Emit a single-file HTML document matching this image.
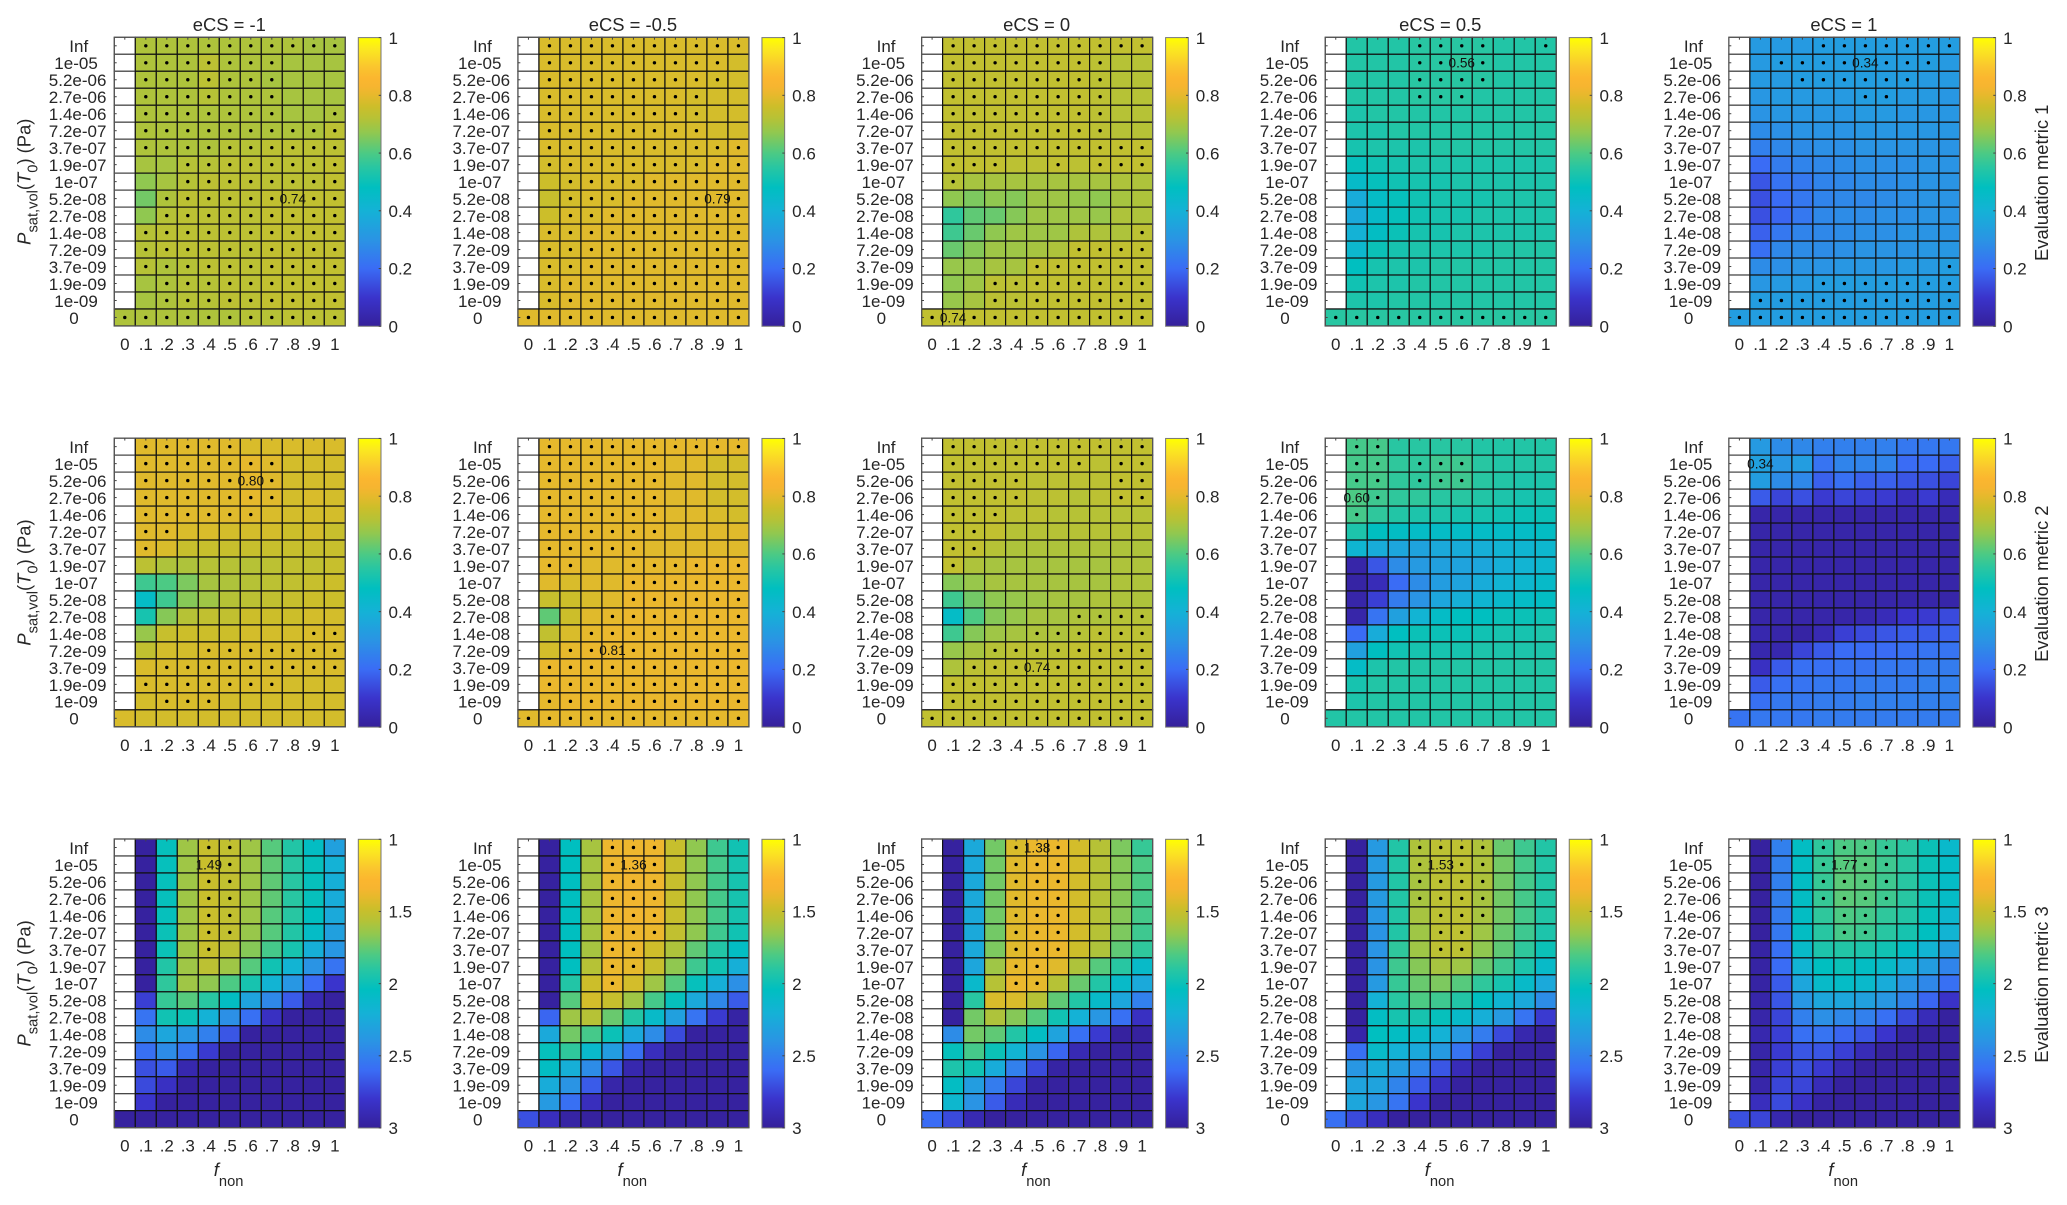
<!DOCTYPE html>
<html lang="en">
<head>
<meta charset="utf-8">
<title>Evaluation metric heatmaps</title>
<style>
html,body{margin:0;padding:0;background:#fff;}
#fig{display:block;font-family:"Liberation Sans",sans-serif;fill:#262626;filter:blur(0.35px);}
</style>
</head>
<body>
<svg id="fig" xmlns="http://www.w3.org/2000/svg" width="2067" height="1205" viewBox="0 0 2067 1205">
<defs><linearGradient id="cbar" x1="0" y1="1" x2="0" y2="0"></linearGradient></defs>
<rect x="0" y="0" width="2067" height="1205" fill="#fff"/>
</svg>
<script>
const _ = null;
const xLabels = ["0",".1",".2",".3",".4",".5",".6",".7",".8",".9","1"];
const yLabels = ["Inf","1e-05","5.2e-06","2.7e-06","1.4e-06","7.2e-07","3.7e-07","1.9e-07","1e-07","5.2e-08","2.7e-08","1.4e-08","7.2e-09","3.7e-09","1.9e-09","1e-09","0"];
const ecsTitles = ["eCS = -1","eCS = -0.5","eCS = 0","eCS = 0.5","eCS = 1"];
const metricNames = ["Evaluation metric 1","Evaluation metric 2","Evaluation metric 3"];
const cbarTicksUnit = [0,0.2,0.4,0.6,0.8,1];
const cbarTicksMetric3 = [1,1.5,2,2.5,3];
const colorStops = [[0,"#35209a"],[0.1,"#3a34cc"],[0.2,"#3a6cf5"],[0.3,"#2a94e4"],[0.4,"#14b2d6"],[0.48,"#00bfc0"],[0.55,"#28c6a2"],[0.6,"#4cca84"],[0.67,"#90c850"],[0.72,"#b6c236"],[0.76,"#ccbe2a"],[0.8,"#e6b92c"],[0.83,"#f6b530"],[0.86,"#fbb62f"],[0.9,"#fac62e"],[0.96,"#fbe820"],[1,"#ffff00"]];

/* metric 1 */
const m1a = [
[_,.71,.71,.71,.71,.71,.71,.71,.71,.70,.70],
[_,.71,.71,.71,.73,.71,.71,.71,.70,.70,.70],
[_,.71,.71,.71,.73,.71,.71,.70,.70,.70,.70],
[_,.71,.71,.71,.72,.71,.71,.71,.70,.70,.70],
[_,.71,.71,.71,.71,.71,.71,.71,.70,.70,.71],
[_,.71,.71,.71,.71,.71,.71,.71,.71,.71,.73],
[_,.71,.71,.71,.71,.72,.72,.73,.73,.73,.73],
[_,.70,.70,.72,.72,.73,.73,.73,.73,.73,.74],
[_,.67,.70,.72,.73,.73,.73,.73,.73,.73,.74],
[_,.64,.71,.73,.73,.73,.73,.74,.74,.74,.74],
[_,.67,.72,.73,.73,.73,.73,.74,.74,.74,.74],
[_,.72,.73,.73,.73,.73,.73,.74,.74,.74,.74],
[_,.72,.73,.73,.73,.73,.73,.74,.74,.74,.74],
[_,.72,.71,.72,.73,.73,.73,.74,.74,.74,.74],
[_,.70,.71,.72,.72,.73,.73,.74,.74,.74,.74],
[_,.70,.71,.72,.72,.73,.73,.74,.74,.74,.74],
[.71,.71,.71,.71,.71,.71,.72,.72,.73,.73,.73]];
const d1a = [[1,2,3,4,5,6,7,8,9,10],[1,2,3,4,5,6,7],[1,2,3,4,5,6,7],[1,2,3,4,5,6,7],[1,2,3,4,5,6,7,10],[1,2,3,4,5,6,7,8,9,10],[1,2,3,4,5,6,7,8,9,10],[3,4,5,6,7,8,9,10],[3,4,5,6,7,8,9,10],[2,3,4,5,6,7,9,10],[2,3,4,5,6,7,8,9,10],[1,2,3,4,5,6,7,8,9,10],[1,2,3,4,5,6,7,8,9,10],[1,2,3,4,5,6,7,8,9,10],[2,3,4,5,6,7,8,9,10],[2,3,4,5,6,7,8,9,10],[0,1,2,3,4,5,6,7,8,9,10]];
const n1a = [9,8,"0.74"];

const m1b = [
[_,.78,.78,.78,.78,.78,.78,.78,.78,.78,.78],
[_,.78,.78,.78,.78,.78,.78,.78,.78,.78,.77],
[_,.78,.78,.78,.78,.78,.78,.78,.78,.77,.77],
[_,.78,.78,.78,.78,.78,.78,.78,.77,.77,.77],
[_,.78,.78,.78,.78,.78,.78,.78,.77,.77,.77],
[_,.78,.78,.78,.78,.78,.78,.78,.78,.77,.77],
[_,.78,.78,.78,.78,.78,.78,.78,.78,.78,.79],
[_,.77,.78,.78,.78,.78,.78,.78,.78,.79,.79],
[_,.76,.77,.78,.78,.78,.79,.79,.79,.79,.79],
[_,.75,.77,.78,.78,.79,.79,.79,.79,.79,.79],
[_,.76,.78,.78,.79,.79,.79,.79,.79,.79,.79],
[_,.78,.78,.79,.79,.79,.79,.79,.79,.79,.79],
[_,.78,.78,.79,.79,.79,.79,.79,.79,.79,.79],
[_,.78,.78,.79,.79,.79,.79,.79,.79,.79,.79],
[_,.78,.79,.79,.79,.79,.79,.79,.79,.79,.79],
[_,.78,.79,.79,.79,.79,.79,.79,.79,.79,.79],
[.79,.79,.79,.79,.79,.79,.79,.79,.79,.79,.79]];
const d1b = [[1,2,3,4,5,6,7,8,9,10],[1,2,3,4,5,6,7,8,9],[1,2,3,4,5,6,7,8,9],[1,2,3,4,5,6,7,8],[1,2,3,4,5,6,7,8],[1,2,3,4,5,6,7,8],[1,2,3,4,5,6,7,8,9,10],[1,2,3,4,5,6,7,8,9,10],[2,3,4,5,6,7,8,9,10],[2,3,4,5,6,7,8,10],[2,3,4,5,6,7,8,9,10],[1,2,3,4,5,6,7,8,9,10],[1,2,3,4,5,6,7,8,9,10],[1,2,3,4,5,6,7,8,9,10],[1,2,3,4,5,6,7,8,9,10],[1,2,3,4,5,6,7,8,9,10],[0,1,2,3,4,5,6,7,8,9,10]];
const n1b = [9,9,"0.79"];

const m1c = [
[_,.74,.74,.74,.74,.74,.74,.74,.74,.74,.74],
[_,.74,.74,.74,.74,.74,.74,.74,.73,.72,.72],
[_,.74,.74,.74,.74,.74,.74,.74,.73,.72,.72],
[_,.74,.74,.74,.74,.74,.74,.74,.73,.72,.72],
[_,.74,.74,.74,.74,.74,.74,.74,.73,.72,.72],
[_,.74,.74,.74,.74,.74,.74,.74,.73,.72,.72],
[_,.74,.74,.74,.74,.74,.74,.74,.74,.74,.74],
[_,.74,.74,.74,.73,.73,.74,.73,.74,.74,.74],
[_,.72,.70,.70,.70,.70,.70,.70,.70,.71,.71],
[_,.67,.65,.67,.66,.69,.69,.68,.67,.70,.71],
[_,.56,.62,.63,.66,.69,.69,.69,.68,.71,.71],
[_,.58,.63,.67,.69,.69,.69,.71,.71,.71,.73],
[_,.63,.66,.69,.69,.70,.71,.74,.74,.74,.74],
[_,.68,.68,.70,.70,.74,.74,.74,.74,.74,.74],
[_,.67,.69,.73,.73,.74,.74,.74,.74,.74,.74],
[_,.68,.70,.73,.73,.74,.74,.74,.74,.74,.74],
[.74,.74,.74,.74,.74,.74,.74,.74,.74,.74,.74]];
const d1c = [[1,2,3,4,5,6,7,8,9,10],[1,2,3,4,5,6,7,8],[1,2,3,4,5,6,7,8],[1,2,3,4,5,6,7,8],[1,2,3,4,5,6,7,8],[1,2,3,4,5,6,7,8],[1,2,3,4,5,6,7,8,9,10],[1,2,3,6,8,9,10],[1],[],[],[10],[7,8,9,10],[5,6,7,8,9,10],[3,4,5,6,7,8,9,10],[3,4,5,6,7,8,9,10],[0,2,3,4,5,6,7,8,9,10]];
const n1c = [16,1,"0.74"];

const m1d = [
[_,.54,.54,.54,.55,.55,.55,.55,.54,.54,.54],
[_,.54,.54,.54,.55,.55,.56,.55,.54,.54,.54],
[_,.54,.54,.54,.55,.55,.55,.55,.54,.54,.54],
[_,.54,.54,.54,.55,.55,.55,.54,.54,.54,.54],
[_,.53,.54,.54,.54,.54,.54,.54,.54,.54,.54],
[_,.53,.53,.54,.54,.54,.54,.54,.54,.54,.54],
[_,.52,.53,.53,.53,.54,.54,.54,.54,.54,.54],
[_,.49,.51,.52,.53,.53,.53,.53,.53,.53,.53],
[_,.45,.49,.51,.52,.52,.53,.53,.53,.53,.53],
[_,.38,.46,.49,.51,.52,.52,.52,.53,.53,.53],
[_,.37,.45,.49,.51,.52,.52,.53,.53,.53,.53],
[_,.40,.47,.50,.52,.52,.53,.53,.53,.53,.53],
[_,.43,.50,.52,.53,.53,.53,.53,.54,.54,.54],
[_,.48,.52,.53,.53,.54,.54,.54,.54,.54,.54],
[_,.51,.53,.53,.54,.54,.54,.54,.54,.54,.54],
[_,.53,.53,.54,.54,.54,.54,.54,.54,.54,.54],
[.55,.55,.55,.55,.55,.55,.55,.55,.55,.55,.55]];
const d1d = [[4,5,6,7,10],[4,5,7],[4,5,6,7],[4,5,6],[],[],[],[],[],[],[],[],[],[],[],[],[0,1,2,3,4,5,6,7,8,9,10]];
const n1d = [1,6,"0.56"];

const m1e = [
[_,.32,.32,.32,.33,.33,.33,.33,.33,.33,.33],
[_,.32,.33,.33,.33,.33,.34,.33,.33,.33,.32],
[_,.32,.32,.33,.33,.33,.33,.33,.33,.32,.32],
[_,.31,.32,.32,.32,.32,.33,.33,.32,.32,.31],
[_,.30,.31,.31,.31,.31,.32,.32,.31,.31,.31],
[_,.28,.29,.30,.30,.30,.31,.31,.31,.31,.31],
[_,.25,.27,.28,.29,.29,.30,.30,.30,.30,.30],
[_,.20,.24,.26,.27,.28,.29,.29,.29,.30,.30],
[_,.16,.22,.23,.26,.27,.28,.28,.29,.30,.30],
[_,.15,.20,.23,.26,.27,.27,.28,.29,.30,.30],
[_,.15,.19,.23,.27,.28,.28,.29,.29,.30,.30],
[_,.18,.23,.26,.27,.28,.29,.29,.30,.30,.30],
[_,.21,.27,.28,.28,.29,.30,.30,.30,.31,.31],
[_,.28,.29,.30,.30,.31,.31,.31,.32,.32,.33],
[_,.31,.32,.32,.33,.33,.33,.33,.33,.33,.33],
[_,.33,.33,.33,.33,.33,.33,.33,.33,.33,.33],
[.33,.33,.33,.33,.33,.33,.33,.33,.33,.33,.33]];
const d1e = [[4,5,6,7,8,9,10],[2,3,4,5,7,8,9],[3,4,5,6,7,8],[6,7],[],[],[],[],[],[],[],[],[],[10],[4,5,6,7,8,9,10],[1,2,3,4,5,6,7,8,9,10],[0,1,2,3,4,5,6,7,8,9,10]];
const n1e = [1,6,"0.34"];

/* metric 2 */
const m2a = [
[_,.79,.79,.79,.79,.79,.78,.78,.78,.78,.78],
[_,.79,.79,.79,.79,.79,.80,.79,.77,.77,.77],
[_,.79,.79,.79,.79,.79,.80,.79,.77,.77,.77],
[_,.79,.79,.79,.79,.79,.80,.79,.77,.78,.77],
[_,.79,.79,.79,.79,.79,.79,.78,.77,.77,.77],
[_,.79,.79,.78,.78,.77,.77,.77,.76,.77,.75],
[_,.79,.78,.75,.75,.75,.75,.75,.75,.75,.75],
[_,.73,.71,.71,.72,.72,.72,.73,.74,.74,.75],
[_,.58,.60,.65,.70,.71,.72,.73,.74,.75,.76],
[_,.46,.58,.66,.69,.72,.73,.74,.75,.76,.76],
[_,.52,.66,.72,.74,.74,.76,.76,.76,.77,.77],
[_,.68,.75,.76,.76,.76,.77,.77,.77,.78,.78],
[_,.74,.77,.77,.78,.78,.78,.78,.78,.78,.78],
[_,.78,.78,.78,.78,.78,.78,.78,.78,.78,.78],
[_,.78,.78,.78,.78,.78,.78,.78,.77,.77,.77],
[_,.77,.78,.78,.78,.77,.77,.77,.77,.77,.77],
[.78,.77,.77,.77,.77,.77,.77,.77,.77,.77,.77]];
const d2a = [[1,2,3,4,5],[1,2,3,4,5,6,7],[1,2,3,4,5,7],[1,2,3,4,5,6,7],[1,2,3,4,5,6],[1,2],[1],[],[],[],[],[9,10],[4,5,6,7,8,9,10],[2,3,4,5,6,7,8,9,10],[1,2,3,4,5,6,7],[2,3,4],[]];
const n2a = [2,6,"0.80"];

const m2b = [
[_,.80,.80,.80,.80,.80,.80,.80,.80,.80,.80],
[_,.80,.80,.80,.80,.80,.80,.79,.79,.77,.77],
[_,.80,.80,.80,.80,.80,.80,.79,.79,.77,.77],
[_,.80,.80,.80,.80,.80,.80,.79,.79,.77,.77],
[_,.80,.80,.80,.80,.80,.80,.79,.79,.78,.77],
[_,.80,.80,.80,.80,.80,.80,.79,.79,.79,.79],
[_,.80,.80,.80,.80,.80,.79,.79,.79,.79,.79],
[_,.80,.80,.79,.79,.80,.80,.80,.81,.81,.81],
[_,.79,.78,.79,.79,.81,.81,.81,.81,.81,.81],
[_,.75,.76,.78,.79,.81,.81,.81,.81,.81,.81],
[_,.62,.76,.79,.80,.81,.81,.81,.81,.81,.81],
[_,.74,.78,.80,.81,.81,.81,.81,.81,.81,.81],
[_,.77,.80,.81,.81,.81,.81,.81,.81,.81,.81],
[_,.81,.81,.81,.81,.81,.81,.81,.81,.81,.81],
[_,.81,.81,.81,.81,.81,.81,.81,.81,.81,.81],
[_,.80,.81,.81,.81,.81,.81,.81,.81,.81,.81],
[.79,.80,.80,.80,.80,.80,.80,.80,.80,.80,.80]];
const d2b = [[1,2,3,4,5,6,7,8,9,10],[1,2,3,4,5,6],[1,2,3,4,5,6],[1,2,3,4,5,6],[1,2,3,4,5,6],[1,2,3,4,5,6],[1,2,3,4,5],[1,2,5,6,7,8,9,10],[5,6,7,8,9,10],[5,6,7,8,9,10],[4,5,6,7,8,9,10],[3,4,5,6,7,8,9,10],[2,3,5,6,7,8,9,10],[1,2,3,4,5,6,7,8,9,10],[1,2,3,4,5,6,7,8,9,10],[1,2,3,4,5,6,7,8,9,10],[0,1,2,3,4,5,6,7,8,9,10]];
const n2b = [12,4,"0.81"];

const m2c = [
[_,.74,.74,.74,.74,.74,.74,.74,.74,.74,.74],
[_,.74,.74,.74,.74,.74,.74,.74,.73,.74,.74],
[_,.74,.74,.74,.74,.73,.73,.73,.73,.74,.74],
[_,.74,.74,.74,.74,.73,.73,.72,.73,.74,.74],
[_,.74,.74,.74,.73,.73,.72,.72,.72,.72,.72],
[_,.74,.74,.74,.72,.72,.72,.72,.72,.72,.72],
[_,.74,.74,.72,.71,.71,.71,.71,.71,.71,.71],
[_,.74,.71,.70,.70,.70,.70,.70,.70,.71,.71],
[_,.66,.68,.70,.70,.70,.70,.70,.70,.71,.71],
[_,.58,.64,.67,.68,.69,.70,.70,.71,.71,.71],
[_,.46,.60,.66,.68,.70,.70,.71,.71,.72,.72],
[_,.58,.66,.69,.70,.71,.71,.72,.73,.73,.73],
[_,.68,.70,.72,.73,.73,.73,.74,.74,.74,.74],
[_,.71,.73,.74,.74,.74,.74,.74,.74,.74,.74],
[_,.74,.74,.74,.74,.74,.74,.74,.74,.74,.74],
[_,.74,.74,.74,.74,.74,.74,.74,.74,.74,.74],
[.74,.74,.74,.74,.74,.74,.74,.74,.74,.74,.74]];
const d2c = [[1,2,3,4,5,6,7,8,9,10],[1,2,3,4,5,6,7,9,10],[1,2,3,4,9,10],[1,2,3,4,9,10],[1,2,3],[1,2],[1,2],[1],[],[],[7,8,9,10],[5,6,7,8,9,10],[3,4,5,6,7,8,9,10],[2,3,4,6,7,8,9,10],[1,2,3,4,5,6,7,8,9,10],[1,2,3,4,5,6,7,8,9,10],[0,1,2,3,4,5,6,7,8,9,10]];
const n2c = [13,5,"0.74"];

const m2d = [
[_,.59,.59,.55,.55,.55,.55,.54,.54,.54,.54],
[_,.59,.59,.56,.56,.58,.58,.55,.54,.54,.54],
[_,.59,.59,.56,.56,.58,.58,.55,.54,.53,.53],
[_,.60,.58,.56,.56,.55,.55,.54,.53,.52,.52],
[_,.59,.56,.54,.53,.53,.52,.52,.51,.50,.50],
[_,.53,.48,.47,.46,.46,.46,.46,.46,.46,.47],
[_,.42,.38,.36,.35,.37,.38,.39,.41,.42,.43],
[_,.03,.16,.28,.32,.34,.35,.36,.39,.41,.43],
[_,.02,.06,.20,.28,.33,.35,.38,.41,.43,.45],
[_,.03,.12,.24,.30,.36,.39,.42,.44,.46,.47],
[_,.03,.22,.34,.41,.46,.48,.48,.50,.50,.51],
[_,.20,.38,.48,.50,.50,.50,.51,.52,.52,.53],
[_,.34,.48,.51,.52,.52,.52,.53,.53,.53,.53],
[_,.46,.53,.54,.54,.54,.54,.54,.54,.54,.54],
[_,.52,.54,.54,.54,.54,.54,.54,.54,.54,.54],
[_,.53,.54,.54,.54,.54,.54,.54,.54,.54,.54],
[.54,.54,.54,.54,.54,.54,.54,.54,.54,.54,.54]];
const d2d = [[1,2],[1,2,4,5,6],[1,2,4,5,6],[2],[1],[],[],[],[],[],[],[],[],[],[],[],[]];
const n2d = [3,1,"0.60"];

const m2e = [
[_,.32,.28,.27,.25,.25,.25,.25,.23,.23,.23],
[_,.34,.31,.33,.22,.26,.26,.26,.20,.20,.18],
[_,.33,.28,.27,.18,.21,.18,.18,.16,.15,.13],
[_,.17,.13,.15,.11,.13,.12,.11,.07,.11,.06],
[_,.03,.03,.03,.03,.03,.03,.03,.03,.03,.03],
[_,.03,.03,.03,.03,.03,.03,.03,.03,.03,.03],
[_,.03,.03,.03,.03,.03,.03,.03,.03,.03,.03],
[_,.03,.03,.03,.03,.03,.03,.03,.03,.03,.03],
[_,.03,.03,.03,.03,.03,.03,.03,.03,.03,.03],
[_,.03,.03,.03,.03,.03,.03,.03,.03,.03,.03],
[_,.03,.03,.03,.03,.03,.04,.06,.10,.11,.14],
[_,.04,.03,.02,.05,.12,.14,.16,.17,.17,.18],
[_,.04,.04,.13,.17,.20,.20,.20,.21,.22,.22],
[_,.08,.17,.21,.21,.22,.22,.23,.23,.24,.24],
[_,.17,.21,.22,.23,.23,.24,.24,.24,.25,.25],
[_,.21,.23,.23,.24,.24,.25,.25,.25,.25,.25],
[.22,.23,.23,.23,.24,.24,.24,.24,.24,.24,.24]];
const d2e = [[],[],[],[],[],[],[],[],[],[],[],[],[],[],[],[],[]];
const n2e = [1,1,"0.34"];

/* metric 3 (reversed scale) */
const m3a = [
[_,2.98,2.02,1.62,1.50,1.52,1.62,1.78,1.92,2.06,2.32],
[_,2.98,2.02,1.62,1.49,1.52,1.62,1.76,1.90,2.02,2.20],
[_,2.98,2.02,1.62,1.49,1.52,1.62,1.76,1.90,2.02,2.22],
[_,2.98,2.02,1.62,1.49,1.52,1.62,1.76,1.90,2.02,2.24],
[_,2.98,2.02,1.62,1.49,1.52,1.62,1.78,1.90,2.04,2.26],
[_,2.98,2.00,1.62,1.49,1.52,1.64,1.78,1.92,2.08,2.32],
[_,2.98,2.00,1.62,1.50,1.54,1.68,1.82,1.96,2.22,2.38],
[_,2.98,1.92,1.62,1.54,1.62,1.78,1.98,2.18,2.40,2.56],
[_,2.98,1.88,1.62,1.66,1.80,1.96,2.18,2.38,2.60,2.80],
[_,2.76,1.86,1.78,1.90,2.06,2.30,2.46,2.66,2.90,2.98],
[_,2.56,1.98,2.00,2.20,2.42,2.58,2.84,2.98,2.98,2.98],
[_,2.44,2.28,2.38,2.50,2.68,2.98,2.98,2.98,2.98,2.98],
[_,2.58,2.44,2.56,2.78,2.98,2.98,2.98,2.98,2.98,2.98],
[_,2.70,2.66,2.92,2.98,2.98,2.98,2.98,2.98,2.98,2.98],
[_,2.72,2.84,2.98,2.98,2.98,2.98,2.98,2.98,2.98,2.98],
[_,2.80,2.98,2.98,2.98,2.98,2.98,2.98,2.98,2.98,2.98],
[2.98,2.98,2.98,2.98,2.98,2.98,2.98,2.98,2.98,2.98,2.98]];
const d3a = [[4,5],[5],[4,5],[4,5],[4,5],[4,5],[4],[],[],[],[],[],[],[],[],[],[]];
const n3a = [1,4,"1.49"];

const m3b = [
[_,2.98,2.04,1.60,1.37,1.37,1.37,1.50,1.66,1.84,1.98],
[_,2.98,2.04,1.60,1.37,1.36,1.37,1.50,1.66,1.82,1.96],
[_,2.98,2.04,1.60,1.37,1.36,1.37,1.50,1.66,1.82,1.96],
[_,2.98,2.04,1.60,1.37,1.36,1.37,1.50,1.66,1.82,1.96],
[_,2.98,2.04,1.60,1.37,1.36,1.37,1.50,1.66,1.82,1.96],
[_,2.98,2.04,1.60,1.37,1.37,1.38,1.52,1.66,1.84,1.98],
[_,2.98,2.04,1.60,1.37,1.38,1.47,1.58,1.76,1.92,2.06],
[_,2.98,2.04,1.56,1.38,1.40,1.50,1.66,1.84,1.98,2.22],
[_,2.98,1.92,1.48,1.38,1.46,1.62,1.78,2.02,2.22,2.42],
[_,2.98,1.78,1.46,1.50,1.62,1.82,2.02,2.26,2.46,2.66],
[_,2.62,1.62,1.56,1.74,1.92,2.10,2.32,2.56,2.78,2.96],
[_,2.26,1.72,1.82,2.00,2.26,2.44,2.72,2.98,2.98,2.98],
[_,2.02,1.88,2.12,2.34,2.58,2.86,2.98,2.98,2.98,2.98],
[_,2.06,2.22,2.44,2.68,2.92,2.98,2.98,2.98,2.98,2.98],
[_,2.24,2.40,2.66,2.94,2.98,2.98,2.98,2.98,2.98,2.98],
[_,2.36,2.58,2.86,2.98,2.98,2.98,2.98,2.98,2.98,2.98],
[2.70,2.86,2.96,2.98,2.98,2.98,2.98,2.98,2.98,2.98,2.98]];
const d3b = [[4,5,6],[4,6],[4,5,6],[4,5,6],[4,5,6],[4,5,6],[4,5],[4,5],[4],[],[],[],[],[],[],[],[]];
const n3b = [1,5,"1.36"];

const m3c = [
[_,2.98,2.26,1.72,1.44,1.38,1.38,1.46,1.56,1.70,1.86],
[_,2.98,2.26,1.72,1.42,1.38,1.38,1.46,1.56,1.68,1.80],
[_,2.98,2.26,1.72,1.42,1.38,1.38,1.46,1.56,1.68,1.80],
[_,2.98,2.26,1.72,1.42,1.38,1.38,1.46,1.56,1.68,1.82],
[_,2.98,2.26,1.72,1.42,1.38,1.38,1.46,1.56,1.68,1.82],
[_,2.98,2.26,1.72,1.42,1.38,1.38,1.46,1.56,1.70,1.84],
[_,2.98,2.26,1.70,1.42,1.38,1.38,1.48,1.58,1.76,1.88],
[_,2.98,2.28,1.62,1.40,1.38,1.42,1.58,1.78,1.90,2.10],
[_,2.98,2.12,1.56,1.38,1.40,1.56,1.74,1.92,2.10,2.26],
[_,2.98,1.90,1.44,1.44,1.56,1.76,1.92,2.10,2.28,2.50],
[_,2.98,1.72,1.58,1.68,1.78,1.98,2.20,2.38,2.58,2.84],
[_,2.44,1.72,1.76,1.92,2.06,2.30,2.58,2.78,2.98,2.98],
[_,2.02,1.82,2.00,2.18,2.40,2.62,2.90,2.98,2.98,2.98],
[_,1.94,1.98,2.24,2.50,2.72,2.96,2.98,2.98,2.98,2.98],
[_,2.06,2.34,2.52,2.74,2.96,2.98,2.98,2.98,2.98,2.98],
[_,2.14,2.40,2.66,2.88,2.98,2.98,2.98,2.98,2.98,2.98],
[2.60,2.72,2.90,2.98,2.98,2.98,2.98,2.98,2.98,2.98,2.98]];
const d3c = [[4,6],[4,5,6],[4,5,6],[4,5,6],[4,5,6],[4,5,6],[4,5,6],[4,5],[4,5],[],[],[],[],[],[],[],[]];
const n3c = [0,5,"1.38"];

const m3d = [
[_,2.98,2.36,1.92,1.58,1.54,1.53,1.58,1.74,1.84,1.92],
[_,2.98,2.36,1.92,1.58,1.54,1.53,1.58,1.72,1.82,1.92],
[_,2.98,2.36,1.92,1.60,1.54,1.53,1.58,1.72,1.82,1.92],
[_,2.98,2.36,1.92,1.60,1.54,1.53,1.60,1.72,1.82,1.92],
[_,2.98,2.38,1.92,1.60,1.54,1.53,1.60,1.72,1.82,1.92],
[_,2.98,2.40,1.92,1.62,1.54,1.53,1.62,1.74,1.84,1.94],
[_,2.98,2.40,1.88,1.62,1.54,1.54,1.66,1.76,1.88,2.00],
[_,2.98,2.40,1.84,1.68,1.60,1.62,1.74,1.84,1.94,2.10],
[_,2.98,2.36,1.86,1.74,1.70,1.78,1.88,1.96,2.10,2.26],
[_,2.98,2.20,1.90,1.80,1.84,1.92,2.04,2.16,2.26,2.44],
[_,2.98,2.06,1.96,1.96,2.02,2.10,2.22,2.36,2.56,2.78],
[_,2.94,2.04,2.06,2.10,2.20,2.36,2.52,2.72,2.92,2.98],
[_,2.58,2.10,2.20,2.26,2.36,2.56,2.76,2.98,2.98,2.98],
[_,2.38,2.24,2.34,2.48,2.68,2.88,2.98,2.98,2.98,2.98],
[_,2.30,2.30,2.48,2.66,2.84,2.98,2.98,2.98,2.98,2.98],
[_,2.28,2.38,2.56,2.80,2.98,2.98,2.98,2.98,2.98,2.98],
[2.58,2.72,2.86,2.98,2.98,2.98,2.98,2.98,2.98,2.98,2.98]];
const d3d = [[4,5,6,7],[4,6,7],[4,5,6,7],[4,5,6,7],[5,6,7],[5,6],[5,6],[],[],[],[],[],[],[],[],[],[]];
const n3d = [1,5,"1.53"];

const m3e = [
[_,2.98,2.50,2.06,1.88,1.80,1.80,1.86,1.90,2.00,2.12],
[_,2.98,2.50,2.06,1.86,1.78,1.78,1.84,1.90,2.00,2.08],
[_,2.98,2.50,2.06,1.86,1.77,1.78,1.84,1.90,2.00,2.08],
[_,2.98,2.50,2.06,1.86,1.77,1.78,1.84,1.90,2.00,2.08],
[_,2.98,2.52,2.06,1.88,1.80,1.82,1.88,1.92,2.02,2.14],
[_,2.98,2.54,2.06,1.90,1.82,1.84,1.90,1.96,2.04,2.18],
[_,2.96,2.58,2.10,1.94,1.92,1.94,1.98,2.06,2.18,2.32],
[_,2.96,2.60,2.18,2.04,2.00,2.06,2.10,2.22,2.34,2.48],
[_,2.96,2.66,2.28,2.10,2.08,2.12,2.24,2.38,2.46,2.58],
[_,2.94,2.68,2.38,2.28,2.28,2.32,2.38,2.48,2.62,2.82],
[_,2.94,2.74,2.50,2.42,2.46,2.50,2.58,2.72,2.88,2.98],
[_,2.92,2.76,2.58,2.56,2.62,2.68,2.80,2.96,2.98,2.98],
[_,2.94,2.78,2.68,2.68,2.76,2.88,2.98,2.98,2.98,2.98],
[_,2.94,2.76,2.70,2.78,2.90,2.98,2.98,2.98,2.98,2.98],
[_,2.94,2.74,2.74,2.88,2.98,2.98,2.98,2.98,2.98,2.98],
[_,2.86,2.72,2.82,2.96,2.98,2.98,2.98,2.98,2.98,2.98],
[2.70,2.74,2.92,2.98,2.98,2.98,2.98,2.98,2.98,2.98,2.98]];
const d3e = [[4,5,6,7],[4,6,7],[4,5,6,7],[4,5,6,7],[5,6],[5,6],[],[],[],[],[],[],[],[],[],[],[]];
const n3e = [1,5,"1.77"];

const panelValues = [[m1a,m1b,m1c,m1d,m1e],[m2a,m2b,m2c,m2d,m2e],[m3a,m3b,m3c,m3d,m3e]];
const panelDots = [[d1a,d1b,d1c,d1d,d1e],[d2a,d2b,d2c,d2d,d2e],[d3a,d3b,d3c,d3d,d3e]];
const panelNotes = [[n1a,n1b,n1c,n1d,n1e],[n2a,n2b,n2c,n2d,n2e],[n3a,n3b,n3c,n3d,n3e]];

const NS = "http://www.w3.org/2000/svg";
const svg = document.getElementById("fig");
const cellW = 21, cellH = 16.98, plotW = cellW * xLabels.length, plotH = cellH * yLabels.length;
function panelLeft(c){ return 114.3 + 403.65 * c; }
function panelTop(r){ return 37.3 + 400.85 * r; }
function xScale(c, i){ return panelLeft(c) + i * cellW; }
function yScale(r, i){ return panelTop(r) + i * cellH; }
function unitOf(r, v){ return r === 2 ? (3 - v) / 2 : v; }
function hexRgb(h){ return [parseInt(h.slice(1,3),16),parseInt(h.slice(3,5),16),parseInt(h.slice(5,7),16)]; }
function colorOf(t){
  t = Math.max(0, Math.min(1, t));
  for (let i = 1; i < colorStops.length; i++) {
    if (t <= colorStops[i][0]) {
      const a = colorStops[i-1], b = colorStops[i], f = (t - a[0]) / (b[0] - a[0]);
      const ca = hexRgb(a[1]), cb = hexRgb(b[1]);
      return "rgb(" + ca.map((x, k) => Math.round(x + (cb[k] - x) * f)).join(",") + ")";
    }
  }
  return colorStops[colorStops.length-1][1];
}
function mk(tag, parent, attrs){
  const el = document.createElementNS(NS, tag);
  for (const k in attrs) el.setAttribute(k, attrs[k]);
  parent.appendChild(el);
  return el;
}
const grad = document.getElementById("cbar");
colorStops.forEach(s => { mk("stop", grad, {offset: s[0], "stop-color": s[1]}); });

for (let r = 0; r < 3; r++) {
  for (let c = 0; c < 5; c++) {
    const g = mk("g", svg, {});
    
    
    const L = panelLeft(c), T = panelTop(r);
    const vals = panelValues[r][c], dots = panelDots[r][c], note = panelNotes[r][c];

    vals.forEach((row, i) => {
      row.forEach((v, j) => {
        const cell = mk("rect", g, {x: xScale(c, j), y: yScale(r, i), width: cellW, height: cellH,
          fill: v === null ? "#fff" : colorOf(unitOf(r, v)), stroke: v === null ? "#444" : "#111", "stroke-width": 1.2});
        
        
      });
    });
    dots.forEach((cols, i) => {
      cols.forEach(j => {
        const dot = mk("circle", g, {cx: xScale(c, j + 0.5), cy: yScale(r, i + 0.5), r: 1.7, fill: "#000"});
        
        
      });
    });
    const noteEl = mk("text", g, {x: xScale(c, note[1] + 0.5), y: yScale(r, note[0] + 0.5) + 4.8, "font-size": 13.6, "text-anchor": "middle", fill: "#111"});
    noteEl.textContent = note[2];
    
    

    const frame = mk("rect", g, {x: L, y: T, width: plotW, height: plotH, fill: "none", stroke: "#555", "stroke-width": 1.2});
    
    

    yLabels.forEach((lab, i) => {
      const tick = mk("line", g, {x1: L, x2: L + 2.4, y1: yScale(r, i + 0.5), y2: yScale(r, i + 0.5), stroke: "#444", "stroke-width": 1});
      
      
      const off = lab.length <= 3 ? 45 : (lab.length === 5 ? 60 : 65.5);
      const t = mk("text", g, {x: L - off, y: yScale(r, i + 0.5) + 6.4, "font-size": 17});
      t.textContent = lab;
      
      
    });
    xLabels.forEach((lab, j) => {
      const tick = mk("line", g, {x1: xScale(c, j + 0.5), x2: xScale(c, j + 0.5), y1: T, y2: T + 2.4, stroke: "#444", "stroke-width": 1});
      
      
      const t = mk("text", g, {x: xScale(c, j + 0.5), y: T + plotH + 24, "font-size": 17, "text-anchor": "middle"});
      t.textContent = lab;
      
      
    });

    const bar = mk("rect", g, {x: L + 244, y: T + 0.3, width: 22.7, height: plotH, fill: "url(#cbar)", stroke: "#777", "stroke-width": 1});
    
    
    const ticks = r === 2 ? cbarTicksMetric3 : cbarTicksUnit;
    ticks.forEach(tv => {
      const yy = T + 0.3 + plotH * (1 - unitOf(r, tv));
      const tk = mk("line", g, {x1: L + 264.4, x2: L + 266.7, y1: yy, y2: yy, stroke: "#444", "stroke-width": 1});
      
      
      const t = mk("text", g, {x: L + 274.2, y: yy + 6.2, "font-size": 17});
      t.textContent = String(tv);
      
      
    });

    if (r === 0) {
      const title = mk("text", g, {x: L + 115, y: 31, "font-size": 18.4, "text-anchor": "middle"});
      title.textContent = ecsTitles[c];
      
      
    }
    if (r === 2) {
      const xl = mk("text", g, {x: L + 99.5, y: T + plotH + 48.5, "font-size": 18.4});
      xl.innerHTML = '<tspan font-style="italic">f</tspan><tspan font-size="14.7" dy="10">non</tspan>';
      
      
    }
    if (c === 0) {
      const cy = T + 144.4;
      const yl = mk("text", g, {x: 0, y: 0, "font-size": 18.4, "text-anchor": "middle", transform: "translate(30.7," + cy + ") rotate(-90)"});
      yl.innerHTML = '<tspan font-style="italic">P</tspan><tspan font-size="14.7" dy="7">sat,vol</tspan><tspan dy="-7">(</tspan><tspan font-style="italic">T</tspan><tspan font-size="14.7" dy="7">0</tspan><tspan dy="-7">) (Pa)</tspan>';
      
      
    }
    if (c === 4) {
      const cy = T + 145.5;
      const cl = mk("text", g, {x: 0, y: 0, "font-size": 18.4, "text-anchor": "middle", transform: "translate(2048," + cy + ") rotate(-90)"});
      cl.textContent = metricNames[r];
      
      
    }
  }
}
</script>
</body>
</html>
